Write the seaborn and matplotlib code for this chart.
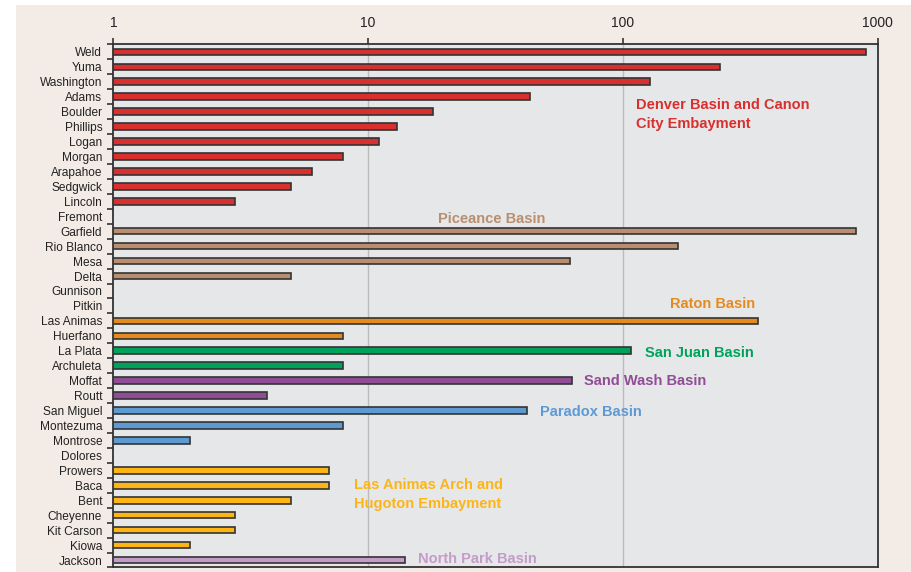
import numpy as np
import pandas as pd
import matplotlib
matplotlib.use("Agg")
import matplotlib.pyplot as plt
from matplotlib.patches import Rectangle
import seaborn as sns

# Data (counties grouped by basin)
counties = [
    "Weld", "Yuma", "Washington", "Adams", "Boulder", "Phillips", "Logan",
    "Morgan", "Arapahoe", "Sedgwick", "Lincoln", "Fremont",
    "Garfield", "Rio Blanco", "Mesa", "Delta", "Gunnison", "Pitkin",
    "Las Animas", "Huerfano",
    "La Plata", "Archuleta",
    "Moffat", "Routt",
    "San Miguel", "Montezuma", "Montrose", "Dolores",
    "Prowers", "Baca", "Bent", "Cheyenne", "Kit Carson", "Kiowa",
    "Jackson",
]
values = [
    900, 240, 128, 43, 18, 13, 11, 8, 6, 5, 3, 0,
    820, 165, 62, 5, 0, 0,
    340, 8,
    108, 8,
    63, 4,
    42, 8, 2, 0,
    7, 7, 5, 3, 3, 2,
    14,
]
basins = (
    ["Denver Basin and Canon City Embayment"] * 12
    + ["Piceance Basin"] * 6
    + ["Raton Basin"] * 2
    + ["San Juan Basin"] * 2
    + ["Sand Wash Basin"] * 2
    + ["Paradox Basin"] * 4
    + ["Las Animas Arch and Hugoton Embayment"] * 6
    + ["North Park Basin"]
)
basin_colors = {
    "Denver Basin and Canon City Embayment": "#d7302f",
    "Piceance Basin": "#b98e70",
    "Raton Basin": "#e38b1f",
    "San Juan Basin": "#00a25b",
    "Sand Wash Basin": "#904d95",
    "Paradox Basin": "#5d9ad4",
    "Las Animas Arch and Hugoton Embayment": "#fdb516",
    "North Park Basin": "#c59bc8",
}

# Basin labels: (basin, text, x value, row position, horizontal alignment)
basin_labels = [
    ("Denver Basin and Canon City Embayment", "Denver Basin and Canon\nCity Embayment", 113, 4.2, "left"),
    ("Piceance Basin", "Piceance Basin", 18.8, 11.2, "left"),
    ("Raton Basin", "Raton Basin", 330, 16.9, "right"),
    ("San Juan Basin", "San Juan Basin", 122, 20.15, "left"),
    ("Sand Wash Basin", "Sand Wash Basin", 70.5, 22.05, "left"),
    ("Paradox Basin", "Paradox Basin", 47.3, 24.1, "left"),
    ("Las Animas Arch and Hugoton Embayment", "Las Animas Arch and\nHugoton Embayment", 8.8, 29.6, "left"),
    ("North Park Basin", "North Park Basin", 15.7, 33.95, "left"),
]

BEIGE = "#f2ebe6"
PANEL = "#e6e7e9"
EDGE = "#333333"

df = pd.DataFrame({"county": counties, "value": values, "basin": basins})
df_bars = df[df["value"] > 0]

sns.set_style("white")
plt.rcParams["font.family"] = ["Liberation Sans", "DejaVu Sans"]

fig = plt.figure(figsize=(9.11, 5.72), dpi=100, facecolor="white")
fig.patches.append(Rectangle((16 / 911, 0), 1 - 16 / 911, 1 - 5 / 572,
                             transform=fig.transFigure, facecolor=BEIGE,
                             edgecolor="none", zorder=-10))
ax = fig.add_axes([0.1244, 0.0079, 0.8391, 0.9145])
ax.set_facecolor(PANEL)

sns.barplot(
    data=df_bars, x="value", y="county", hue="basin", order=counties,
    hue_order=list(basin_colors), palette=basin_colors, dodge=False,
    saturation=1, width=0.44, edgecolor=EDGE, linewidth=1.2, legend=False,
    orient="h", ax=ax,
)
ax.set_xscale("log")

ax.set_xlim(1, 1000)
ax.set_ylim(len(counties) - 0.5, -0.5)
ax.xaxis.tick_top()
ax.set_xticks([1, 10, 100, 1000])
ax.set_xticklabels(["1", "10", "100", "1000"])
ax.xaxis.set_minor_locator(matplotlib.ticker.NullLocator())
ax.tick_params(axis="x", which="major", direction="out", length=4, width=1.2,
               color=EDGE, labelsize=10, labelcolor="#222222", pad=6,
               top=True, bottom=False)
for xv in [10, 100]:
    ax.axvline(xv, color="#bbbbbb", linewidth=1.0, zorder=0.5)

ax.set_yticks(range(len(counties)))
ax.set_yticklabels(counties)
ax.set_yticks(np.arange(-0.5, len(counties)), minor=True)
ax.tick_params(axis="y", which="major", length=0, labelsize=8.6,
               labelcolor="#222222", pad=8)
ax.tick_params(axis="y", which="minor", direction="out", length=4, width=1.2,
               color=EDGE, left=True)

ax.set_xlabel("")
ax.set_ylabel("")
for side in ["top", "bottom", "left", "right"]:
    ax.spines[side].set_visible(True)
    ax.spines[side].set_color(EDGE)
    ax.spines[side].set_linewidth(1.3)

for basin, text, xv, yv, ha in basin_labels:
    ax.text(xv, yv, text, color=basin_colors[basin], fontsize=10.5,
            fontweight="bold", ha=ha, va="center", linespacing=1.45)

fig.savefig("out.png", dpi=100, facecolor="white")
